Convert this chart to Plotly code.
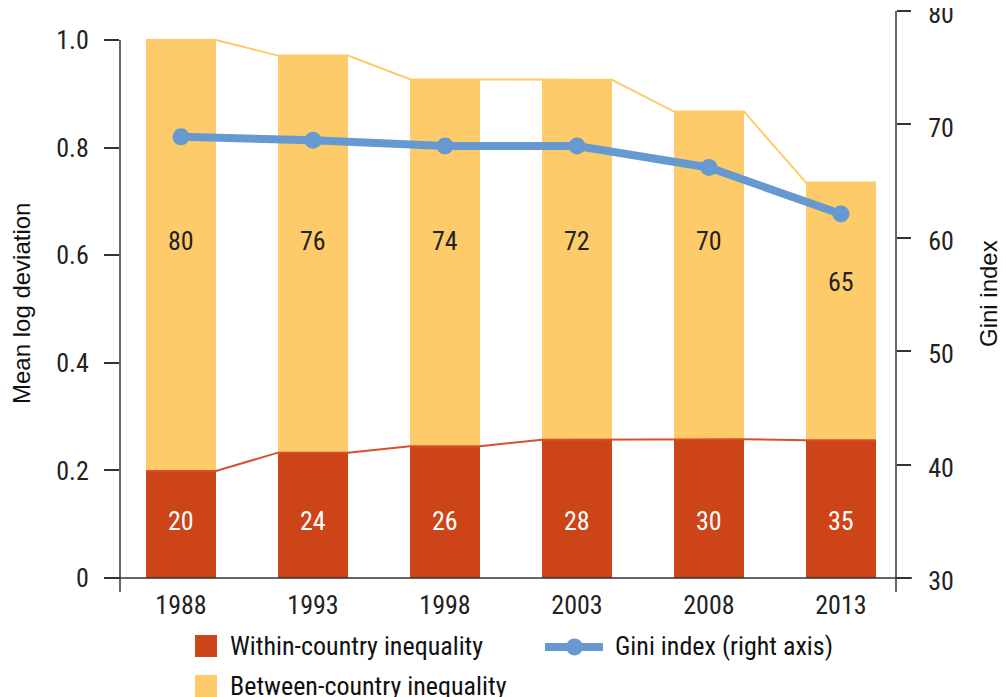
import plotly.graph_objects as go

# ---- data ----
years = ["1988", "1993", "1998", "2003", "2008", "2013"]
within = [0.199, 0.233, 0.245, 0.257, 0.258, 0.256]
between = [0.801, 0.738, 0.682, 0.669, 0.609, 0.479]
within_share = [20, 24, 26, 28, 30, 35]
between_share = [80, 76, 74, 72, 70, 65]
gini = [68.9, 68.6, 68.1, 68.1, 66.2, 62.1]
left_ticks = [0, 0.2, 0.4, 0.6, 0.8, 1.0]
left_ticktext = ["0", "0.2", "0.4", "0.6", "0.8", "1.0"]
right_ticks = [30, 40, 50, 60, 70, 80]

# ---- style ----
RED = "#CD4419"
YEL = "#FDCB6A"
BLUE = "#6699D0"
AX = "#333333"
NARROW = "Liberation Sans Narrow, Arial Narrow, Roboto Condensed, DejaVu Sans Condensed, sans-serif"
REG = "Liberation Sans, Arial, sans-serif"

OFF = 8  # page body margin
W, H = 998, 689
ML, MR, MT, MB = 112, 110, 3, 119
PW, PH = W - ML - MR, H - MT - MB
YTOP = 1.0539
BW = 0.53

x = list(range(len(years)))
totals = [a + b for a, b in zip(within, between)]

def px(xp):  # page pixel x -> paper
    return (xp - OFF - ML) / PW

def py(yp):  # page pixel y -> paper
    return (H - MB - (yp - OFF)) / PH

fig = go.Figure()
fig.add_trace(go.Bar(x=x, y=within, width=BW, marker=dict(color=RED, line=dict(width=0)),
                     name="Within-country inequality", showlegend=False))
fig.add_trace(go.Bar(x=x, y=between, width=BW, marker=dict(color=YEL, line=dict(width=0)),
                     name="Between-country inequality", showlegend=False))

# connector lines along bar tops
cx, cy_t, cy_w = [], [], []
for i in x:
    cx += [i - BW / 2, i + BW / 2]
    cy_t += [totals[i], totals[i]]
    cy_w += [within[i], within[i]]
fig.add_trace(go.Scatter(x=cx, y=cy_t, mode="lines", line=dict(color=YEL, width=2),
                         showlegend=False, hoverinfo="skip"))
fig.add_trace(go.Scatter(x=cx, y=cy_w, mode="lines", line=dict(color="#D8502A", width=2),
                         showlegend=False, hoverinfo="skip"))

fig.add_trace(go.Scatter(x=x, y=gini, yaxis="y2", mode="lines+markers",
                         line=dict(color=BLUE, width=8), marker=dict(size=17, color=BLUE),
                         name="Gini index (right axis)", showlegend=False))

ann = []
for i in x:
    ann.append(dict(x=i, y=min(0.626, totals[i] - 0.185), xref="x", yref="y",
                    xanchor="center", yanchor="middle",
                    text=str(between_share[i]), showarrow=False,
                    font=dict(family=NARROW, size=26, color="#222222")))
    ann.append(dict(x=i, y=0.106, xref="x", yref="y", xanchor="center", yanchor="middle",
                    text=str(within_share[i]),
                    showarrow=False, font=dict(family=NARROW, size=26, color="white")))

# axis titles
ann.append(dict(x=px(21), y=py(304), xref="paper", yref="paper", text="Mean log deviation",
                xanchor="center", yanchor="middle",
                textangle=-90, showarrow=False, font=dict(family=REG, size=24, color="#111")))
ann.append(dict(x=px(988), y=py(294), xref="paper", yref="paper", text="Gini index",
                xanchor="center", yanchor="middle",
                textangle=-90, showarrow=False, font=dict(family=REG, size=24, color="#111")))

# legend text
legend_items = [("Within-country inequality", 228, 646),
                ("Between-country inequality", 228, 686),
                ("Gini index (right axis)", 613, 646)]
for txt, lx, ly in legend_items:
    ann.append(dict(x=px(lx), y=py(ly), xref="paper", yref="paper", xanchor="left",
                    yanchor="middle", text=txt, showarrow=False,
                    font=dict(family=NARROW, size=26, color="#111")))

shapes = [
    # axis lines
    dict(type="line", xref="paper", yref="paper", x0=0, x1=0, y0=1.0 / YTOP, y1=py(592),
         line=dict(color=AX, width=1.5)),
    dict(type="line", xref="paper", yref="paper", x0=1, x1=1, y0=1, y1=py(592),
         line=dict(color=AX, width=1.5)),
    dict(type="line", xref="paper", yref="paper", x0=px(104), x1=px(912), y0=0, y1=0,
         line=dict(color=AX, width=1.5)),
    # legend swatches
    dict(type="rect", xref="paper", yref="paper", x0=px(195), x1=px(217), y0=py(635), y1=py(657),
         fillcolor=RED, line=dict(width=0)),
    dict(type="rect", xref="paper", yref="paper", x0=px(195), x1=px(217), y0=py(675), y1=py(697),
         fillcolor=YEL, line=dict(width=0)),
    dict(type="line", xref="paper", yref="paper", x0=px(545), x1=px(603), y0=py(647), y1=py(647),
         line=dict(color=BLUE, width=8)),
    dict(type="circle", xref="paper", yref="paper", x0=px(566), x1=px(583), y0=py(638.5), y1=py(655.5),
         fillcolor=BLUE, line=dict(width=0)),
]

fig.update_layout(
    width=W, height=H,
    margin=dict(l=ML, r=MR, t=MT, b=MB, autoexpand=False),
    barmode="stack",
    plot_bgcolor="white", paper_bgcolor="white",
    showlegend=False,
    xaxis=dict(range=[-0.462, 5.417], tickvals=x, ticktext=years, ticks="",
               automargin=False,
               showgrid=False, zeroline=False, showline=False, ticklabelstandoff=9,
               tickfont=dict(family=NARROW, size=26, color="#222")),
    yaxis=dict(range=[0, YTOP], tickvals=left_ticks, ticktext=left_ticktext,
               ticks="outside", ticklen=15, tickwidth=1.5, tickcolor=AX, automargin=False,
               showgrid=False, zeroline=False, showline=False, ticklabelstandoff=10,
               ticklabeloverflow="allow",
               tickfont=dict(family=NARROW, size=26, color="#222")),
    yaxis2=dict(range=[30, 80], overlaying="y", side="right", tickvals=right_ticks,
                ticks="outside", ticklen=14, tickwidth=1.5, tickcolor=AX, automargin=False,
                showgrid=False, zeroline=False, showline=False, ticklabelstandoff=12,
                ticklabelshift=3, ticklabeloverflow="allow",
                tickfont=dict(family=NARROW, size=26, color="#222")),
    annotations=ann,
    shapes=shapes,
)

fig.write_html("out.html")
